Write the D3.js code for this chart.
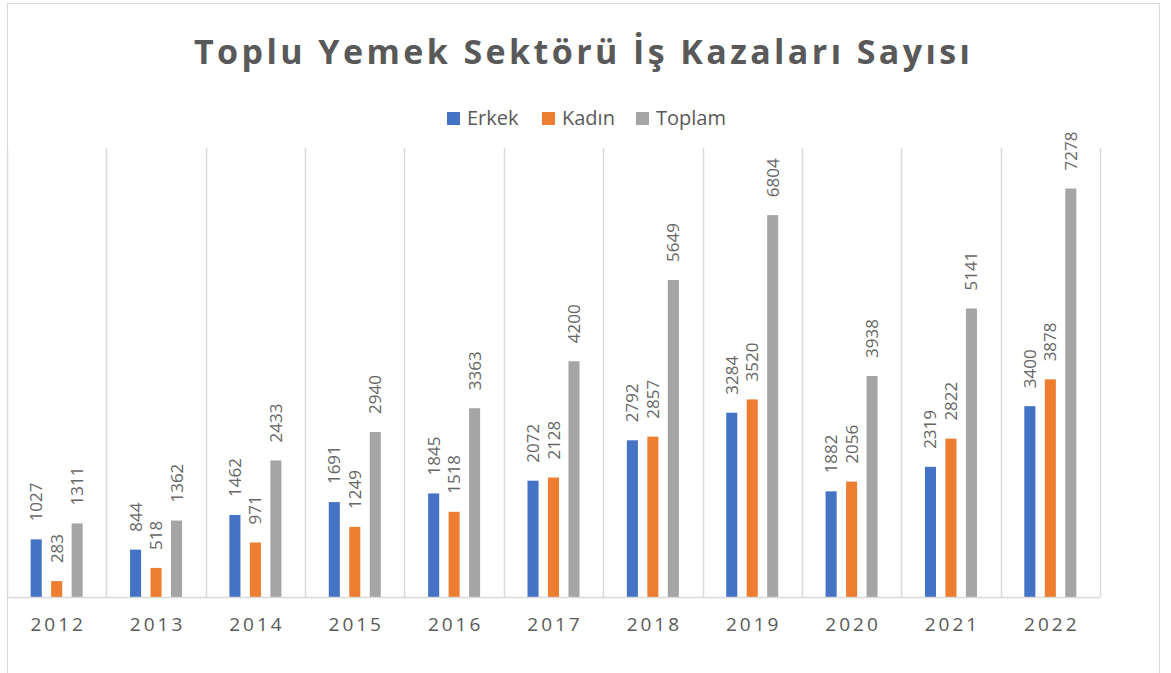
<!DOCTYPE html>
<html>
<head>
<meta charset="utf-8">
<script src="https://cdn.jsdelivr.net/npm/d3@7"></script>
<style>
  body { margin: 0; background: #fff; }
  text { font-family: "Open Sans", sans-serif; }
</style>
</head>
<body>
<div id="chart"></div>
<script>
// data
var years = ["2012","2013","2014","2015","2016","2017","2018","2019","2020","2021","2022"];
var seriesNames = ["Erkek", "Kadın", "Toplam"];
var erkek  = [1027, 844, 1462, 1691, 1845, 2072, 2792, 3284, 1882, 2319, 3400];
var kadin  = [283, 518, 971, 1249, 1518, 2128, 2857, 3520, 2056, 2822, 3878];
var toplam = [1311, 1362, 2433, 2940, 3363, 4200, 5649, 6804, 3938, 5141, 7278];
var colors = ["#4472C4", "#ED7D31", "#A5A5A5"];

var W = 1171, H = 673;
var plot = { left: 7, right: 1100, top: 148, bottom: 597 };

var svg = d3.select("#chart").append("svg")
    .attr("width", W)
    .attr("height", H);

// outer chart border
svg.append("rect")
    .attr("x", 7.5).attr("y", 3.5)
    .attr("width", 1152).attr("height", 700)
    .attr("fill", "none")
    .attr("stroke", "#d9d9d9");

// title
svg.append("text")
    .attr("x", 582).attr("y", 64)
    .attr("text-anchor", "middle")
    .attr("fill", "#595959")
    .attr("font-size", 34)
    .attr("font-weight", 700)
    .attr("textLength", 776)
    .attr("lengthAdjust", "spacing")
    .text("Toplu Yemek Sektörü İş Kazaları Sayısı");

// legend
var legendX = [447, 542, 636];
seriesNames.forEach(function(name, i) {
    svg.append("rect")
        .attr("x", legendX[i]).attr("y", 112)
        .attr("width", 13).attr("height", 13)
        .attr("fill", colors[i]);
    svg.append("text")
        .attr("x", legendX[i] + 20).attr("y", 125)
        .attr("fill", "#595959")
        .attr("font-size", 20)
        .text(name);
});

var x0 = d3.scaleBand()
    .domain(years)
    .range([plot.left, plot.right])
    .padding(0);

var groupW = 52;
var x1 = d3.scaleBand()
    .domain(seriesNames)
    .range([(x0.bandwidth() - groupW) / 2, (x0.bandwidth() + groupW) / 2])
    .paddingInner(0.46);

var y = d3.scaleLinear()
    .domain([0, 8000])
    .range([plot.bottom, plot.top]);

// vertical gridlines at category edges
var edges = years.map(function(d) { return x0(d); }).concat([plot.right]);
svg.append("g").selectAll("line")
    .data(edges)
    .enter().append("line")
    .attr("x1", d => Math.round(d) + 0.5)
    .attr("x2", d => Math.round(d) + 0.5)
    .attr("y1", plot.top)
    .attr("y2", plot.bottom)
    .attr("stroke", "#d9d9d9")
    .attr("stroke-width", 1.5);

// bars
var rows = years.map(function(yr, i) {
    return { year: yr, values: [erkek[i], kadin[i], toplam[i]] };
});

var groups = svg.append("g").selectAll("g")
    .data(rows)
    .enter().append("g")
    .attr("transform", d => `translate(${x0(d.year)},0)`);

groups.selectAll("rect")
    .data(d => d.values.map((v, i) => ({ name: seriesNames[i], value: v, c: colors[i] })))
    .enter().append("rect")
    .attr("x", d => x1(d.name))
    .attr("width", x1.bandwidth())
    .attr("y", d => y(d.value))
    .attr("height", d => y(0) - y(d.value))
    .attr("fill", d => d.c);

// rotated value labels
groups.selectAll("text")
    .data(d => d.values.map((v, i) => ({ name: seriesNames[i], value: v })))
    .enter().append("text")
    .attr("transform", d => `translate(${x1(d.name) + x1.bandwidth() / 2 + 6},${y(d.value) - 18}) rotate(-90)`)
    .attr("fill", "#666")
    .attr("font-size", 17)
    .text(d => d.value);

// x axis line
svg.append("line")
    .attr("x1", plot.left).attr("x2", plot.right)
    .attr("y1", plot.bottom + 0.5).attr("y2", plot.bottom + 0.5)
    .attr("stroke", "#d9d9d9")
    .attr("stroke-width", 1.5);

// year labels
svg.append("g").selectAll("text")
    .data(years)
    .enter().append("text")
    .attr("x", d => x0(d) + x0.bandwidth() / 2 + 1.5)
    .attr("y", 631)
    .attr("text-anchor", "middle")
    .attr("fill", "#595959")
    .attr("font-size", 19)
    .attr("letter-spacing", 3)
    .text(d => d);
</script>
</body>
</html>
